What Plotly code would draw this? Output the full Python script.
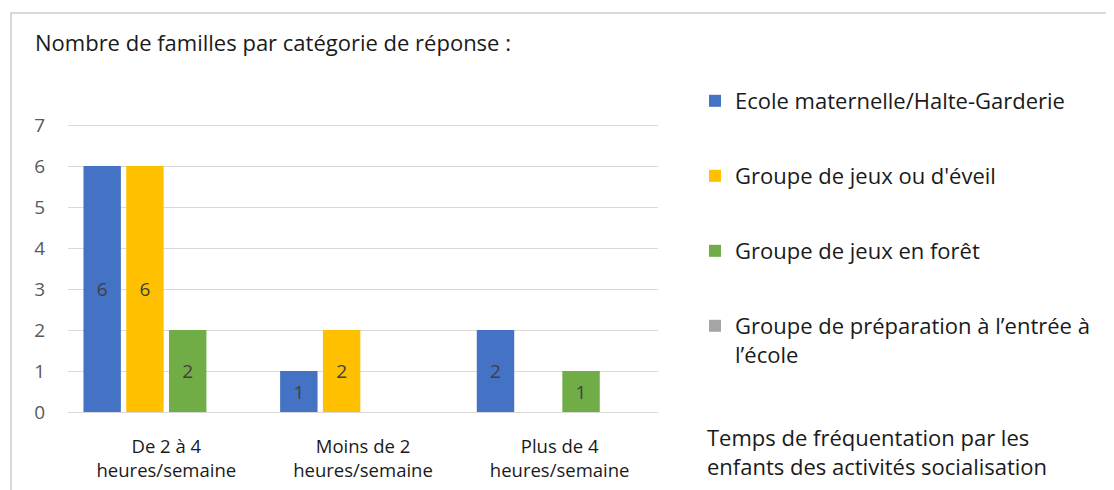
import plotly.graph_objects as go

# categories and series values
categories = ["De 2 à 4<br>heures/semaine", "Moins de 2<br>heures/semaine", "Plus de 4<br>heures/semaine"]
series_names = [
    "Ecole maternelle/Halte-Garderie",
    "Groupe de jeux ou d'éveil",
    "Groupe de jeux en forêt",
    "Groupe de préparation à l’entrée à<br>l’école",
]
ecole = [6, 1, 2]
jeux_eveil = [6, 2, None]
jeux_foret = [2, None, 1]
preparation = [None, None, None]
y_ticks = [0, 1, 2, 3, 4, 5, 6, 7]

colors = ["#4472C4", "#FFC000", "#70AD47", "#A5A5A5"]
FONT = "Open Sans"

# the page body adds an 8px margin, so page coordinates are shifted by OFF
OFF = 8
L, R, T, B = 60, 464, 115, 86
W, H = 1114 - L - R, 490 - T - B

def px(x):
    return (x - OFF - L) / W

def py(y):
    return (490 - B - (y - OFF)) / H

legend_ids = ["legend", "legend2", "legend3", "legend4"]
legend_tops = [80, 155, 230, 305]

fig = go.Figure()
for i, (name, vals) in enumerate(zip(series_names, [ecole, jeux_eveil, jeux_foret, preparation])):
    fig.add_trace(go.Bar(
        x=categories, y=vals, name=name, legend=legend_ids[i],
        marker=dict(color=colors[i], line=dict(width=0)),
        text=[("" if v is None else str(v)) for v in vals],
        textposition="inside", insidetextanchor="middle",
        textfont=dict(family=FONT, size=19, color="#404040"),
        hoverinfo="x+y+name",
    ))

legends = {}
for lid, top in zip(legend_ids, legend_tops):
    legends[lid] = dict(
        x=px(695), y=py(top), xanchor="left", yanchor="top", valign="top",
        font=dict(family=FONT, size=22, color="#1a1a1a"),
        bgcolor="rgba(0,0,0,0)",
    )

fig.update_layout(
    width=1114, height=490, autosize=False,
    margin=dict(l=L, r=R, t=T, b=B),
    paper_bgcolor="white", plot_bgcolor="white",
    barmode="group", bargap=0.13, bargroupgap=0.125,
    font=dict(family=FONT, size=20, color="#1a1a1a"),
    showlegend=True,
    xaxis=dict(
        showgrid=False, showline=True, linecolor="#D9D9D9", linewidth=1,
        ticks="", tickfont=dict(family=FONT, size=18.5, color="#1a1a1a"),
        ticklabelstandoff=18, automargin=False,
    ),
    yaxis=dict(
        range=[0, 7.05], tickvals=y_ticks, showgrid=True, gridcolor="#D9D9D9", gridwidth=1,
        zeroline=False, showline=False, ticks="",
        tickfont=dict(family=FONT, size=19, color="#595959"),
        ticklabelstandoff=22, automargin=False,
    ),
    shapes=[dict(
        type="rect", xref="paper", yref="paper",
        x0=px(11), x1=px(1140), y0=py(13), y1=py(520),
        line=dict(color="#D9D9D9", width=2), fillcolor="rgba(0,0,0,0)", layer="below",
    )],
    annotations=[
        dict(text="Nombre de familles par catégorie de réponse :", xref="paper", yref="paper",
             x=px(33), y=py(42), xanchor="left", yanchor="middle", showarrow=False,
             font=dict(family=FONT, size=22, color="#1a1a1a")),
        dict(text="Temps de fréquentation par les<br>enfants des activités socialisation",
             xref="paper", yref="paper", x=px(705), y=py(452), xanchor="left", yanchor="middle",
             align="left", showarrow=False,
             font=dict(family=FONT, size=22, color="#1a1a1a")),
    ],
)
fig.update_layout(**legends)

fig.write_html("out.html")
